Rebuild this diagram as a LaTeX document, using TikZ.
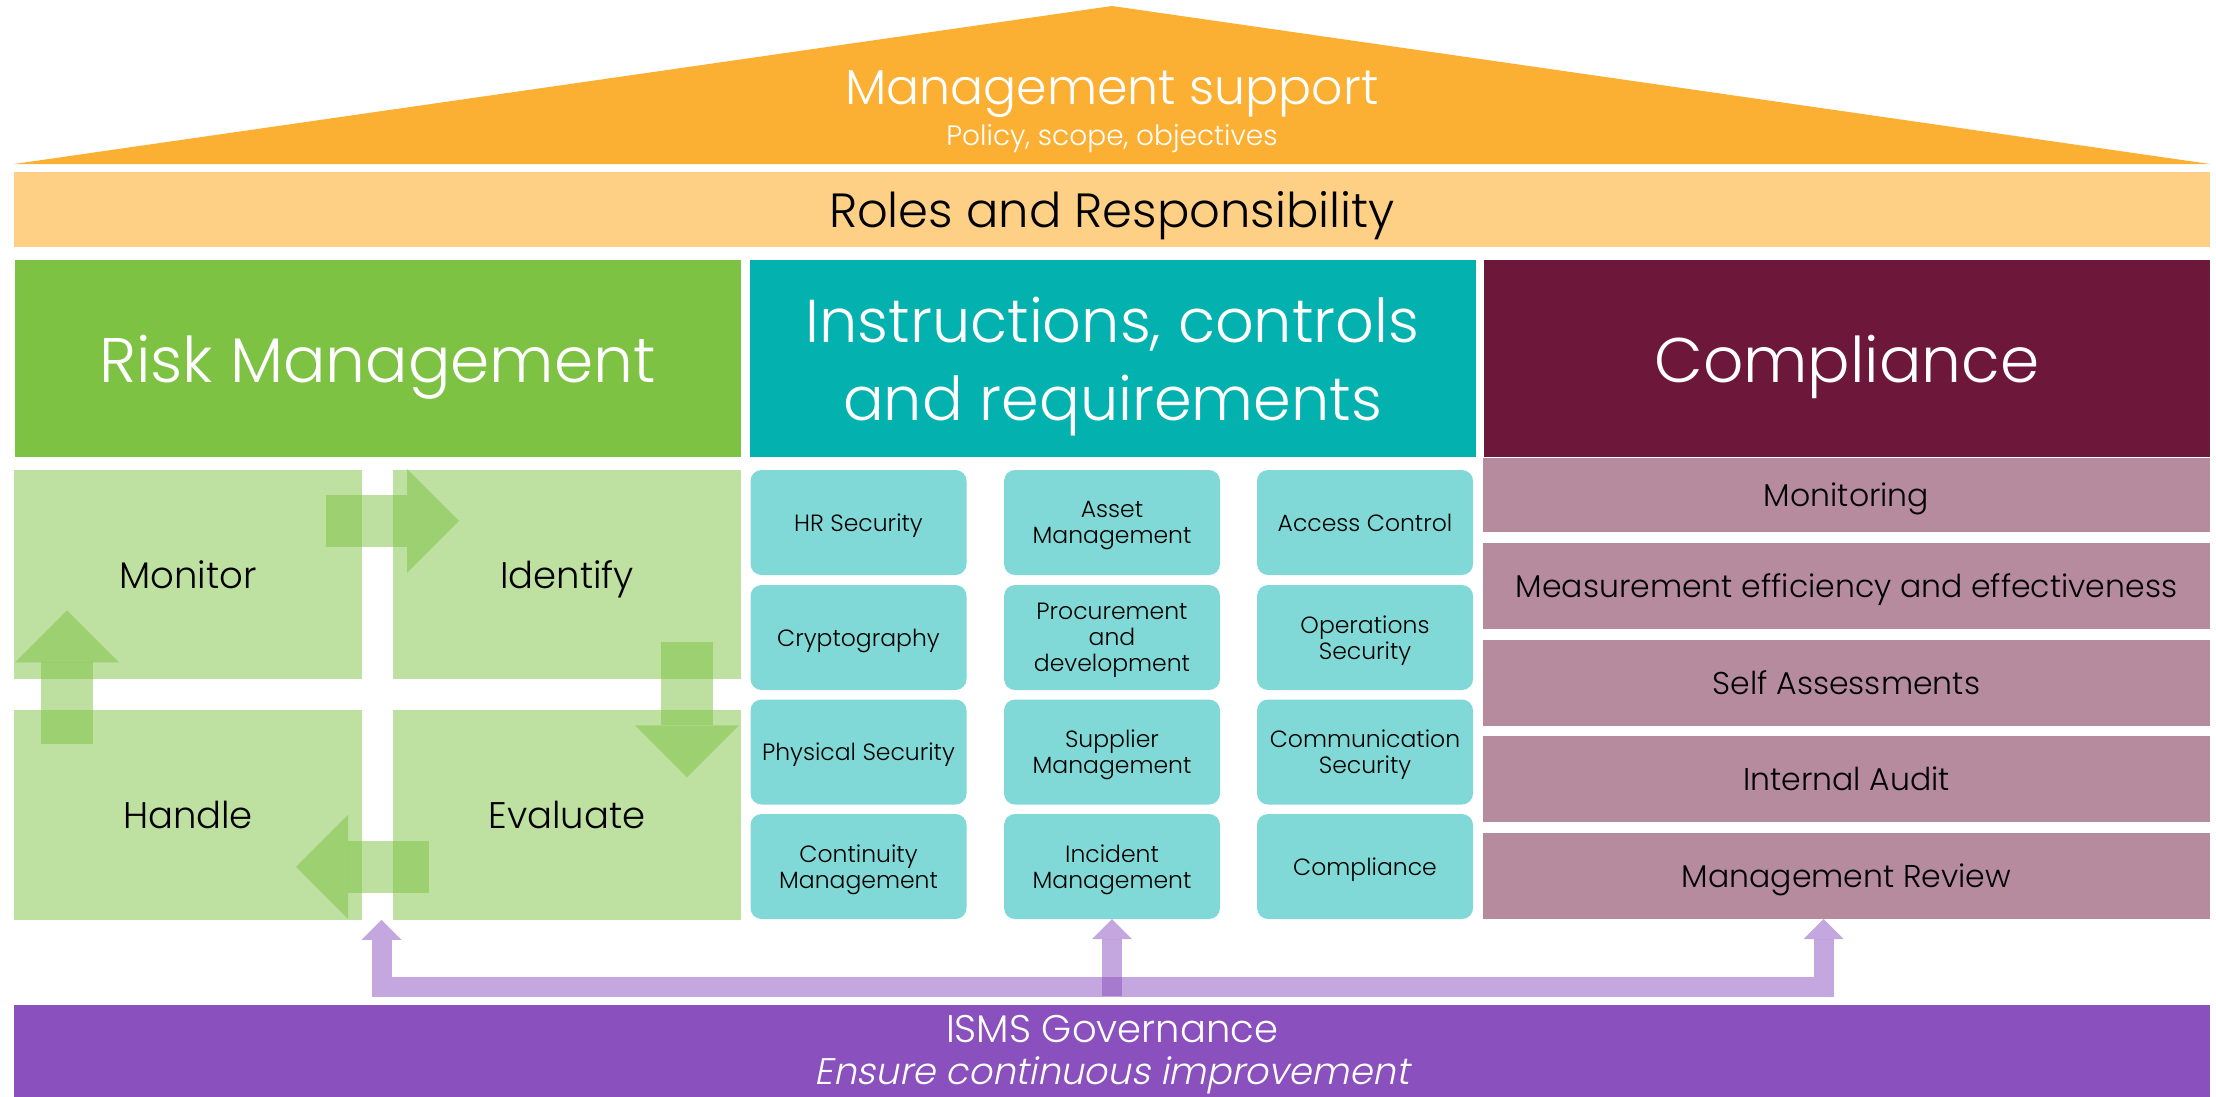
\documentclass[tikz,border=0pt]{standalone}
\usepackage{fontspec}
\setmainfont{Poppins Light}[AutoFakeSlant=0.2]
\usetikzlibrary{arrows.meta,calc}
\definecolor{roofcol}{HTML}{FBB034}
\definecolor{rolescol}{HTML}{FDD086}
\definecolor{riskcol}{HTML}{7DC243}
\definecolor{ctrlcol}{HTML}{03B2AF}
\definecolor{compcol}{HTML}{6D183B}
\definecolor{govcol}{HTML}{8A50BE}
\newcommand{\fs}[2]{\fontsize{#1}{#2}\selectfont}

\begin{document}
\begin{tikzpicture}[x=1pt, y=-1pt,
  every node/.style={inner sep=0pt, outer sep=0pt, align=center, text depth=0pt},
  band/.style={minimum width=2196pt},
  header/.style={fill=#1, text=white, minimum width=726pt, minimum height=197pt, font=\fs{63}{78}},
  cell/.style={fill=riskcol!50, minimum width=348pt, minimum height=209.5pt, font=\fs{37}{44}},
  ctrl/.style={fill=ctrlcol!50, rounded corners=11pt, minimum width=216pt, minimum height=105pt, font=\fs{23.5}{26}},
  check/.style={fill=compcol!50, minimum width=727pt, minimum height=86pt, font=\fs{31.5}{38}},
  rmarrow/.style={draw=riskcol, opacity=.5, line width=52pt, -{Triangle[length=52pt, width=104pt, line width=0pt]}},
  govarrow/.style={draw=govcol, opacity=.5, line width=20pt},
  ]
\useasboundingbox (0,0) rectangle (2216,1096);
\fill[white] (0,0) rectangle (2216,1096);

% roof
\fill[roofcol] (14,164) -- (1112,6) -- (2210,164) -- cycle;
\node[text=white, font=\fs{49}{58}] (support) at (1112,87.5) {Management support};
\node[text=white, font=\fs{28}{34}] (scope) at (1112,135) {Policy, scope, objectives};
\node[band, fill=rolescol, minimum height=75pt, font=\fs{48}{56}] (roles) at (1112,209.5) {Roles and Responsibility};

% pillars
\node[header=riskcol] (risk) at (377.5,358.5) {Risk Management};
\node[header=ctrlcol, font=\fs{60.5}{78}] (ctrl) at (1112.5,358.5) {Instructions, controls\\and requirements};
\node[header=compcol] (comp) at (1847,358.5) {Compliance};

% risk cycle
\node[cell] (monitor) at (188,574.5) {Monitor};
\node[cell] (identify) at (567,574.5) {Identify};
\node[cell] (handle) at (188,815) {Handle};
\node[cell] (evaluate) at (567,815) {Evaluate};

\draw[rmarrow] ([xshift=-36pt,yshift=-51pt]monitor.north east) -- ([xshift=66pt,yshift=-51pt]identify.north west);
\draw[rmarrow] ([xshift=-54pt,yshift=37pt]identify.south east) -- ([xshift=-54pt,yshift=-67pt]evaluate.north east);
\draw[rmarrow] ([xshift=36pt,yshift=53pt]evaluate.south west) -- ([xshift=-66pt,yshift=53pt]handle.south east);
\draw[rmarrow] ([xshift=53pt,yshift=-34pt]handle.north west) -- ([xshift=53pt,yshift=69pt]monitor.south west);

% controls
\node[ctrl] (hrsec) at (858.5,522.5) {HR Security};
\node[ctrl] (asset) at (1112,522.5) {Asset\\Management};
\node[ctrl] (access) at (1365,522.5) {Access Control};
\node[ctrl] (crypto) at (858.5,637.5) {Cryptography};
\node[ctrl] (procure) at (1112,637.5) {Procurement\\and\\development};
\node[ctrl] (operations) at (1365,637.5) {Operations\\Security};
\node[ctrl] (physical) at (858.5,752) {Physical Security};
\node[ctrl] (supplier) at (1112,752) {Supplier\\Management};
\node[ctrl] (communication) at (1365,752) {Communication\\Security};
\node[ctrl] (continuity) at (858.5,866.5) {Continuity\\Management};
\node[ctrl] (incident) at (1112,866.5) {Incident\\Management};
\node[ctrl] (ctrlcomp) at (1365,866.5) {Compliance};

% compliance
\node[check, minimum height=74pt] (monitoring) at (1846.5,495) {Monitoring};
\node[check] (measure) at (1846.5,586) {Measurement efficiency and effectiveness};
\node[check] (selfassess) at (1846.5,682.5) {Self Assessments};
\node[check] (audit) at (1846.5,779) {Internal Audit};
\node[check] (review) at (1846.5,876) {Management Review};

% governance
\node[band, fill=govcol, minimum height=95pt] (gov) at (1112,1052.5) {};
\node[text=white, font=\fs{38.5}{46}] (govtitle) at (1112,1029) {ISMS Governance};
\node[text=white, font=\fs{37}{44}\itshape] (govsub) at (1112,1071) {Ensure continuous improvement};

\coordinate (gapfoot) at ($(handle.south east)!.5!(evaluate.south west)$);
\coordinate (govbar) at ([yshift=18pt]gov.north);
\coordinate (govbase) at ([yshift=9pt]gov.north);
\draw[govarrow, {Triangle[length=20pt, width=40pt, line width=0pt]}-{Triangle[length=20pt, width=40pt, line width=0pt]}]
  ([xshift=4pt]gapfoot) |- (govbar) -| ([xshift=-23pt]review.south);
\draw[govarrow, -{Triangle[length=20pt, width=40pt, line width=0pt]}] (incident.south |- govbase) -- (incident.south);
\end{tikzpicture}
\end{document}
